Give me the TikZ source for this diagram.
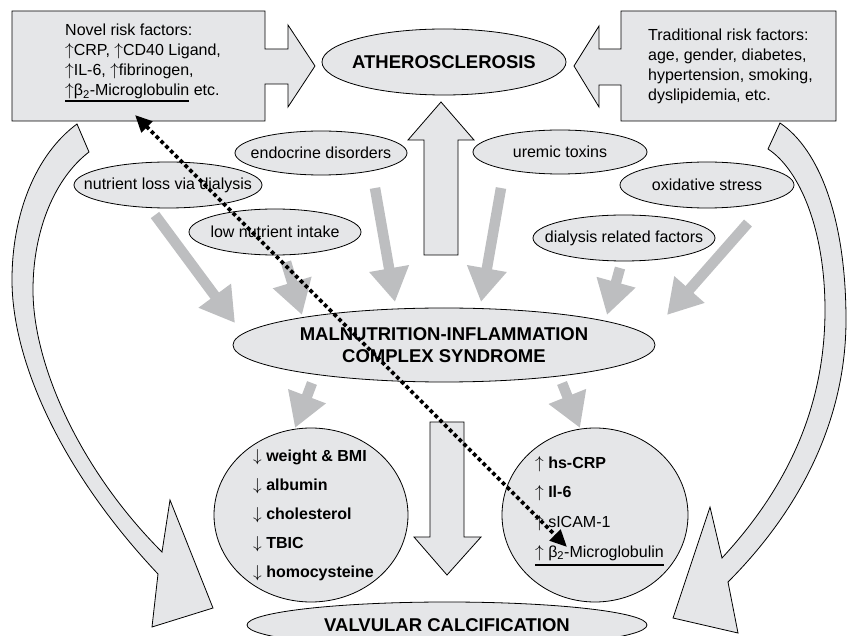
\documentclass[tikz,border=0pt]{standalone}
\usepackage{fontspec}
\setmainfont{Liberation Sans}
\usetikzlibrary{shapes.geometric,arrows.meta}
\definecolor{fillg}{HTML}{E5E6E8}
\definecolor{arrg}{HTML}{BDBEC0}
\newcommand\fsmall{\fontsize{16}{20}\selectfont}
\newcommand\fbig{\fontsize{18.5}{22}\selectfont\bfseries}
\newcommand\myul[2]{\setbox0\hbox{#2}\rlap{\rule[-#1]{\wd0}{1.6pt}}\box0\relax}
\newcommand\upa{$\uparrow$}
\newcommand\dna{$\downarrow$}
\tikzset{
  oval/.style={ellipse, draw=black, line width=0.8pt, fill=fillg, inner sep=0pt},
  lbl/.style={font=\fsmall, inner sep=0pt, align=center},
  biglbl/.style={font=\fbig, inner sep=0pt, align=center},
  shapeg/.style={draw=black, line width=0.8pt, fill=fillg, line join=miter},
  greyarrow/.style={draw=arrg, line width=10.5pt, -{Triangle[length=34pt,width=38pt]}},
  dotarrow/.style={line width=3.8pt, dash pattern=on 3.8pt off 3pt,
     {Triangle[length=17pt,width=15pt]}-{Triangle[length=17pt,width=15pt]}},
  txt/.style={inner sep=0pt, align=left},
}
\begin{document}
\begin{tikzpicture}[x=1pt,y=-1pt]
\useasboundingbox (0,0) rectangle (847,636);
\clip (0,0) rectangle (847,636);

% curved hollow arrows
\draw[shapeg] (77,124) .. controls (35,155) and (12,215) .. (12,280)
  .. controls (12,360) and (60,470) .. (158,574) -- (152,627) -- (213,608) -- (170,500) -- (162,552)
  .. controls (80,470) and (33,365) .. (33,290) .. controls (33,230) and (55,178) .. (89,152) -- cycle;
\draw[shapeg] (780,123) .. controls (820,150) and (846,220) .. (846,320)
  .. controls (846,420) and (800,510) .. (728,582) -- (738,633) -- (673,618) -- (710,507) -- (722,558)
  .. controls (785,490) and (825,410) .. (825,310) .. controls (825,230) and (800,170) .. (768,149) -- cycle;

% boxes with arrows
\draw[shapeg] (12,11) -- (265,11) -- (265,49) -- (288,49) -- (288,25) -- (315,66) -- (288,107)
  -- (288,84) -- (265,84) -- (265,121) -- (12,121) -- cycle;
\draw[shapeg] (836,11) -- (621,11) -- (621,49) -- (599,49) -- (599,26) -- (574,66) -- (599,107)
  -- (599,85) -- (621,85) -- (621,121) -- (836,121) -- cycle;
\node[txt, font=\fsmall, anchor=west] (novel) at (65,63)
  {Novel risk factors:\\\upa CRP, \upa CD40 Ligand,\\\upa IL-6, \upa fibrinogen,\\\myul{5.6pt}{\upa β\textsubscript{2}-Microglobulin} etc.};
\node[txt, font=\fsmall, anchor=west] (trad) at (648,66)
  {Traditional risk factors:\\age, gender, diabetes,\\hypertension, smoking,\\dyslipidemia, etc.};

% hollow up / down arrows
\draw[shapeg] (424,255) -- (424,140) -- (408,140) -- (441,102) -- (474,140) -- (458,140) -- (458,255) -- cycle;
\draw[shapeg] (430,422) -- (464,422) -- (464,537) -- (481,537) -- (447,575) -- (414,537) -- (430,537) -- cycle;

% ellipses
\node[oval, minimum width=244pt, minimum height=66pt, label={[biglbl]center:ATHEROSCLEROSIS}] (ather) at (444,62) {};
\node[oval, minimum width=172pt, minimum height=44pt, label={[lbl]center:endocrine disorders}] (endo) at (321,153) {};
\node[oval, minimum width=188pt, minimum height=46pt, label={[lbl]center:nutrient loss via dialysis}] (nloss) at (168,185) {};
\node[oval, minimum width=172pt, minimum height=46pt, label={[lbl]center:low nutrient intake}] (lowin) at (275,232) {};
\node[oval, minimum width=174pt, minimum height=44pt, label={[lbl]center:uremic toxins}] (urem) at (560,152) {};
\node[oval, minimum width=174pt, minimum height=46pt, label={[lbl]center:oxidative stress}] (oxid) at (707,185) {};
\node[oval, minimum width=182pt, minimum height=46pt, label={[lbl]center:dialysis related factors}] (dialrel) at (624,238) {};
\node[oval, minimum width=422pt, minimum height=74pt, label={[biglbl]center:{MALNUTRITION-INFLAMMATION\\COMPLEX SYNDROME}}] (mics) at (444,345) {};
\node[oval, minimum width=194pt, minimum height=174pt] (leftc) at (311,515) {};
\node[oval, minimum width=186pt, minimum height=174pt] (rightc) at (595,515) {};
\node[oval, minimum width=400pt, minimum height=46pt, label={[biglbl]center:VALVULAR CALCIFICATION}] (valv) at (447,625) {};

\node[txt, font=\fontsize{16}{29}\selectfont, anchor=west] (leftt) at (253,515)
  {\dna\ \textbf{weight \& BMI}\\\dna\ \textbf{albumin}\\\dna\ \textbf{cholesterol}\\\dna\ \textbf{TBIC}\\\dna\ \textbf{homocysteine}};
\node[txt, font=\fontsize{16}{29.7}\selectfont, anchor=west] (rightt) at (535,511)
  {\upa\ \textbf{hs-CRP}\\\upa\ \textbf{Il-6}\\\upa\ sICAM-1\\\myul{8.5pt}{\upa\ β\textsubscript{2}-Microglobulin}};

% grey arrows
\coordinate (g1s) at (155,215); \coordinate (g1e) at (235,323);
\coordinate (g2s) at (286,262); \coordinate (g2e) at (302,315);
\coordinate (g3s) at (375,188); \coordinate (g3e) at (395,302);
\coordinate (g4s) at (501,188); \coordinate (g4e) at (481,302);
\coordinate (g5s) at (620,268); \coordinate (g5e) at (607,315);
\coordinate (g6s) at (748,223); \coordinate (g6e) at (667,315);
\coordinate (g7s) at (312,383); \coordinate (g7e) at (295,428);
\coordinate (g8s) at (562,383); \coordinate (g8e) at (580,428);
\foreach \i in {1,...,8} {\draw[greyarrow] (g\i s) -- (g\i e);}

% dotted double arrow
\coordinate (dA) at (135,115);
\coordinate (dB) at (567,547);
\draw[dotarrow] (dA) -- (dB);
\end{tikzpicture}
\end{document}
